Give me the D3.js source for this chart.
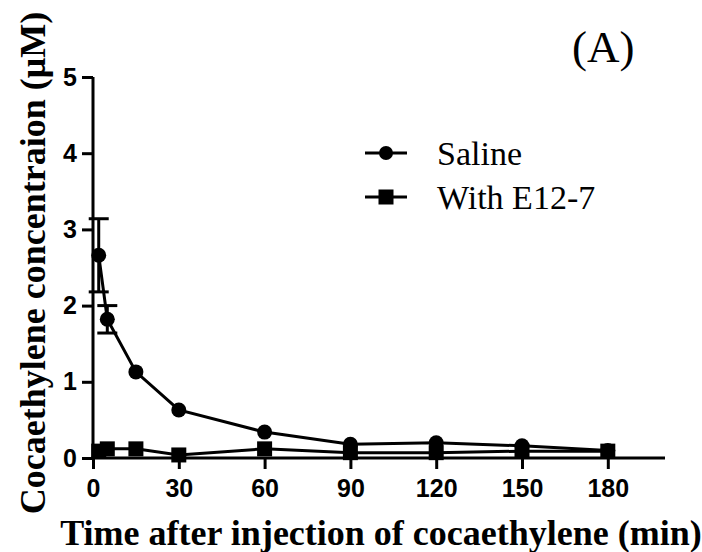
<!DOCTYPE html>
<html>
<head>
<meta charset="utf-8">
<script src="https://cdn.jsdelivr.net/npm/d3@7"></script>
<style>
  html, body { margin: 0; padding: 0; background: #fff; }
  svg { display: block; }
</style>
</head>
<body>
<div id="chart"></div>
<script>
// ---- Data ----
const times = [2, 5, 15, 30, 60, 90, 120, 150, 180];
const salineValues = [2.66, 1.82, 1.13, 0.63, 0.34, 0.18, 0.20, 0.16, 0.10];
const salineErrors = [0.48, 0.18, 0, 0, 0, 0, 0, 0, 0];
const e127Values = [0.09, 0.12, 0.12, 0.04, 0.12, 0.07, 0.07, 0.09, 0.09];
const e127Errors = [0, 0, 0, 0, 0, 0, 0, 0, 0];
const xTicks = [0, 30, 60, 90, 120, 150, 180];
const yTicks = [0, 1, 2, 3, 4, 5];
const seriesNames = ["Saline", "With E12-7"];
const xTitle = "Time after injection of cocaethylene (min)";
const yTitle = "Cocaethylene concentraion (\u03BCM)";
const panelLabel = "(A)";

// ---- Layout ----
const W = 702, H = 552;
const svg = d3.select("#chart").append("svg").attr("width", W).attr("height", H);
const x = d3.scaleLinear().domain([0, 200]).range([93, 665]);
const y = d3.scaleLinear().domain([0, 5]).range([458, 77]);
const sansBold = "'Liberation Sans', Arial, sans-serif";
const serif = "'Liberation Serif', 'Times New Roman', serif";

// axes
const yAxis = svg.append("g").attr("transform", `translate(${x(0)},0)`)
  .call(d3.axisLeft(y).tickValues(yTicks).tickSize(11).tickPadding(5).tickFormat(d3.format("d")));
const xAxis = svg.append("g").attr("transform", `translate(0,${y(0)})`)
  .call(d3.axisBottom(x).tickValues(xTicks).tickSize(11).tickPadding(10).tickFormat(d3.format("d")));
[xAxis, yAxis].forEach(g => {
  g.select(".domain").attr("stroke", "#000").attr("stroke-width", 3);
  g.selectAll(".tick line").attr("stroke", "#000").attr("stroke-width", 3);
  g.selectAll(".tick text").attr("fill", "#000").style("font-family", sansBold)
    .style("font-weight", "bold").style("font-size", "25px");
});
yAxis.select(".domain").attr("d", `M0,${y(5)}V${y(0) + 1.5}`);
xAxis.select(".domain").attr("d", `M${x(0) - 1.5},0H${x(200)}`);

// series
const saline = times.map((t, i) => ({ t, v: salineValues[i], e: salineErrors[i] }));
const e127 = times.map((t, i) => ({ t, v: e127Values[i], e: e127Errors[i] }));
const line = d3.line().x(d => x(d.t)).y(d => y(d.v));

function errorBars(data) {
  const g = svg.append("g").attr("stroke", "#000").attr("stroke-width", 3);
  data.filter(d => d.e > 0).forEach(d => {
    const cx = x(d.t), cw = 10;
    g.append("line").attr("x1", cx).attr("x2", cx).attr("y1", y(d.v + d.e)).attr("y2", y(d.v - d.e));
    g.append("line").attr("x1", cx - cw).attr("x2", cx + cw).attr("y1", y(d.v + d.e)).attr("y2", y(d.v + d.e));
    g.append("line").attr("x1", cx - cw).attr("x2", cx + cw).attr("y1", y(d.v - d.e)).attr("y2", y(d.v - d.e));
  });
}

errorBars(saline);
svg.append("path").datum(saline).attr("d", line).attr("fill", "none").attr("stroke", "#000").attr("stroke-width", 3);
svg.append("g").selectAll("circle").data(saline).join("circle")
  .attr("cx", d => x(d.t)).attr("cy", d => y(d.v)).attr("r", 7.5).attr("fill", "#000");

errorBars(e127);
svg.append("path").datum(e127).attr("d", line).attr("fill", "none").attr("stroke", "#000").attr("stroke-width", 3);
const sq = 15;
svg.append("g").selectAll("rect").data(e127).join("rect")
  .attr("x", d => x(d.t) - sq / 2).attr("y", d => y(d.v) - sq / 2)
  .attr("width", sq).attr("height", sq).attr("fill", "#000");

// legend
const legend = svg.append("g");
const legY = [153, 197];
seriesNames.forEach((name, i) => {
  const gy = legY[i];
  legend.append("line").attr("x1", 365).attr("x2", 407).attr("y1", gy).attr("y2", gy)
    .attr("stroke", "#000").attr("stroke-width", 3);
  if (i === 0) {
    legend.append("circle").attr("cx", 386).attr("cy", gy).attr("r", 7).attr("fill", "#000");
  } else {
    legend.append("rect").attr("x", 386 - 7.5).attr("y", gy - 7.5).attr("width", 15).attr("height", 15).attr("fill", "#000");
  }
  legend.append("text").attr("x", 437).attr("y", gy + 12).text(name)
    .style("font-family", serif).style("font-size", "34px").attr("fill", "#000");
});

// panel label
svg.append("text").attr("x", 572).attr("y", 62).text(panelLabel)
  .style("font-family", serif).style("font-size", "45px").attr("fill", "#000");

// axis titles
svg.append("text").attr("x", 381).attr("y", 545).attr("text-anchor", "middle").text(xTitle)
  .style("font-family", serif).style("font-weight", "bold").style("font-size", "36px").attr("fill", "#000");
svg.append("text").attr("transform", "translate(45,263) rotate(-90)").attr("text-anchor", "middle").text(yTitle)
  .style("font-family", serif).style("font-weight", "bold").style("font-size", "36px").attr("fill", "#000");
</script>
</body>
</html>
